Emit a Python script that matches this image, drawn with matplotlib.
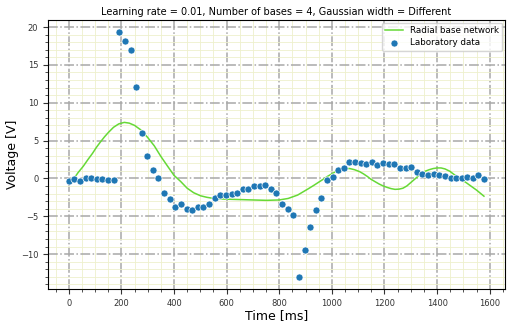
import numpy as np
import matplotlib
matplotlib.use("Agg")
import matplotlib.pyplot as plt
from matplotlib.ticker import MultipleLocator

# Laboratory data (time in ms, voltage in V)
lab_time = [0, 21, 43, 64, 85, 107, 128, 149, 171, 192, 213, 235, 256, 277, 299,
            320, 341, 363, 384, 405, 427, 448, 469, 491, 512, 533, 555, 576, 597,
            619, 640, 661, 683, 704, 725, 747, 768, 789, 811, 832, 853, 875, 896,
            917, 939, 960, 981, 1003, 1024, 1045, 1067, 1088, 1109, 1131, 1152,
            1173, 1195, 1216, 1237, 1259, 1280, 1301, 1323, 1344, 1365, 1387, 1408,
            1429, 1451, 1472, 1493, 1515, 1536, 1557, 1579]
lab_voltage = [-0.4, -0.13, -0.31, 0.09, 0.09, -0.04, -0.04, -0.18, -0.18, 19.3,
               18.2, 16.9, 12.1, 6.0, 3.0, 1.06, 0.0, -1.95, -2.75, -3.72, -3.37,
               -4.0, -4.2, -3.8, -3.8, -3.33, -2.57, -2.2, -2.2, -2.1, -1.95, -1.37,
               -1.46, -0.98, -0.98, -0.89, -1.42, -1.95, -3.37, -4.0, -4.85, -13.0,
               -9.5, -6.38, -4.2, -2.55, -0.27, 0.2, 1.06, 1.42, 2.2, 2.1, 2.06,
               1.9, 2.1, 1.75, 2.0, 1.92, 1.86, 1.42, 1.42, 1.55, 0.84, 0.58, 0.44,
               0.62, 0.49, 0.27, 0.0, 0.0, 0.09, 0.22, 0.0, 0.4, -0.13]

# Radial base network output
rbn_time = [0, 20, 35, 55, 73, 90, 105, 120, 136, 150, 170, 190, 211, 230, 250,
            274, 300, 325, 350, 375, 400, 425, 450, 475, 501, 525, 551, 600, 652,
            700, 752, 800, 834, 870, 909, 930, 950, 970, 985, 1005, 1020, 1035,
            1050, 1068, 1086, 1105, 1120, 1135, 1148, 1165, 1180, 1195, 1211,
            1225, 1240, 1255, 1270, 1285, 1300, 1320, 1337, 1355, 1370, 1385,
            1400, 1415, 1430, 1448, 1463, 1480, 1495, 1510, 1526, 1550, 1578]
rbn_voltage = [-0.6, 0.0, 0.75, 1.6, 2.5, 3.3, 4.1, 4.8, 5.5, 6.05, 6.75, 7.2, 7.4,
               7.3, 7.0, 6.4, 5.4, 4.3, 2.9, 1.64, 0.4, -0.4, -1.3, -1.9, -2.3,
               -2.5, -2.65, -2.75, -2.8, -2.85, -2.9, -2.85, -2.65, -2.2, -1.4,
               -0.95, -0.5, -0.05, 0.3, 0.7, 1.0, 1.2, 1.3, 1.3, 1.15, 0.9, 0.6,
               0.25, -0.1, -0.45, -0.75, -1.0, -1.2, -1.35, -1.45, -1.42, -1.3,
               -1.0, -0.55, 0.05, 0.6, 0.95, 1.15, 1.3, 1.38, 1.38, 1.25, 0.95,
               0.55, 0.15, -0.2, -0.55, -0.95, -1.55, -2.35]

fig = plt.figure(figsize=(5.07, 3.24), dpi=100)
ax = fig.add_axes([0.0947, 0.108, 0.9013, 0.83])

ax.plot(rbn_time, rbn_voltage, color="#66d936", lw=1.1, label="Radial base network", zorder=3)
ax.scatter(lab_time, lab_voltage, s=26, color="#1f77b4", edgecolors="white",
           linewidths=0.5, label="Laboratory data", zorder=4)

ax.xaxis.set_major_locator(MultipleLocator(200))
ax.xaxis.set_minor_locator(MultipleLocator(50))
ax.yaxis.set_major_locator(MultipleLocator(5))
ax.yaxis.set_minor_locator(MultipleLocator(1))
ax.grid(which="major", color="#a8a8a8", linestyle="-.", linewidth=1.1, zorder=1)
ax.grid(which="minor", color="#eef0cc", linestyle="-", linewidth=0.6, zorder=0)
ax.set_axisbelow(True)

ax.tick_params(which="major", labelsize=6, length=3.5, width=0.8, colors="#333333")
ax.tick_params(which="minor", length=2, width=0.6, colors="#333333")

ax.set_title("Learning rate = 0.01, Number of bases = 4, Gaussian width = Different",
             fontsize=7, pad=4)
ax.set_xlabel("Time [ms]", fontsize=9, labelpad=1)
ax.set_ylabel("Voltage [V]", fontsize=9, labelpad=1)

ax.legend(loc="upper right", fontsize=6.3, framealpha=0.8, borderpad=0.4,
          labelspacing=0.35, handlelength=2.0, handletextpad=0.8,
          borderaxespad=0.3)

fig.savefig("out.png", dpi=100)
